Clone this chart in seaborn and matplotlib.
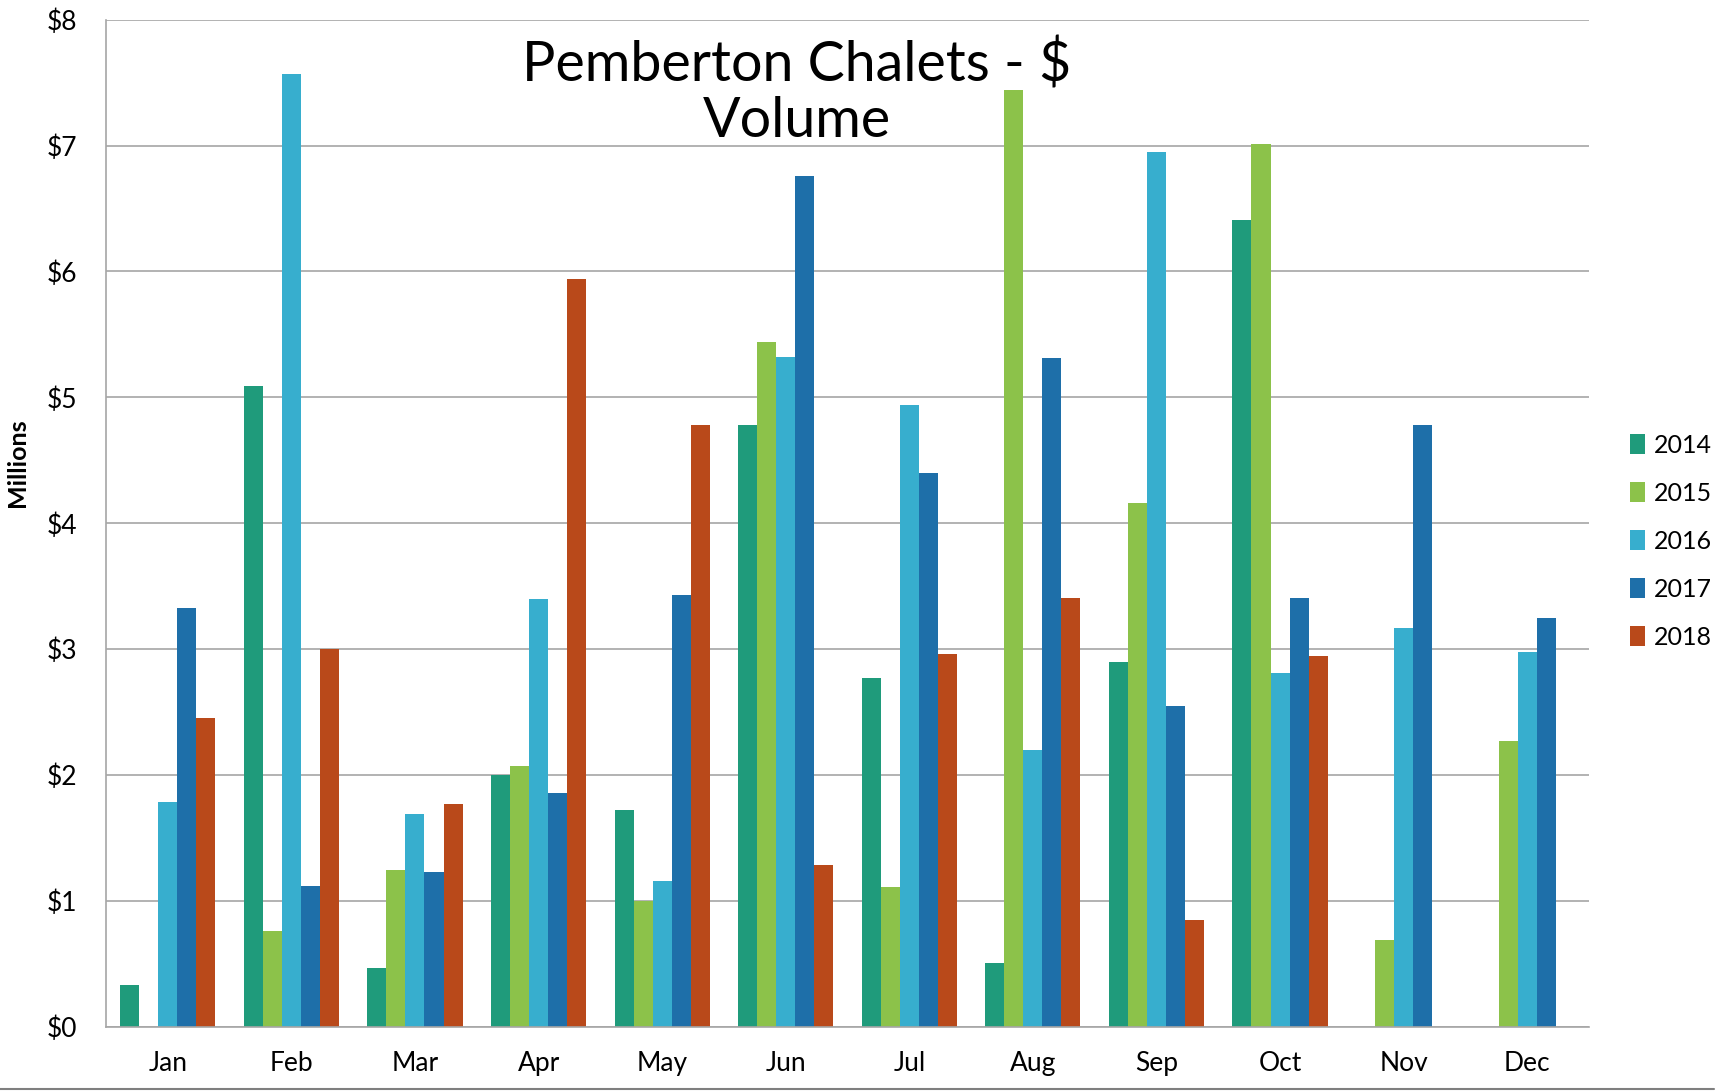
import numpy as np
import pandas as pd
import matplotlib
matplotlib.use("Agg")
import matplotlib.pyplot as plt
from matplotlib.lines import Line2D
from matplotlib.patches import Patch
import seaborn as sns

months = ["Jan", "Feb", "Mar", "Apr", "May", "Jun", "Jul", "Aug", "Sep", "Oct", "Nov", "Dec"]
years = ["2014", "2015", "2016", "2017", "2018"]

# $ volume in millions, NaN = no sales
vol_2014 = [0.33, 5.09, 0.47, 2.00, 1.72, 4.78, 2.77, 0.51, 2.90, 6.41, np.nan, np.nan]
vol_2015 = [np.nan, 0.76, 1.25, 2.07, 1.00, 5.44, 1.11, 7.44, 4.16, 7.01, 0.69, 2.27]
vol_2016 = [1.79, 7.57, 1.69, 3.40, 1.16, 5.32, 4.94, 2.20, 6.95, 2.81, 3.17, 2.98]
vol_2017 = [3.33, 1.12, 1.23, 1.86, 3.43, 6.76, 4.40, 5.31, 2.55, 3.41, 4.78, 3.25]
vol_2018 = [2.45, 3.00, 1.77, 5.94, 4.78, 1.29, 2.96, 3.41, 0.85, 2.95, np.nan, np.nan]

colors = ["#1F9B7B", "#8CC24A", "#37AECE", "#1E6FA9", "#B9491A"]

df = pd.DataFrame({
    "month": months * 5,
    "year": np.repeat(years, 12),
    "value": vol_2014 + vol_2015 + vol_2016 + vol_2017 + vol_2018,
})

sns.set_theme(style="white")
plt.rcParams["font.family"] = ["Lato", "DejaVu Sans"]
plt.rcParams["text.color"] = "black"
plt.rcParams["axes.labelcolor"] = "black"

fig = plt.figure(figsize=(17.21, 10.91), dpi=100)
ax = fig.add_axes([0.0616, 0.0587, 0.8617, 0.9233])

sns.barplot(data=df, x="month", y="value", hue="year", order=months, hue_order=years,
            palette=colors, width=0.77, gap=0, linewidth=0, saturation=1,
            errorbar=None, legend=False, ax=ax)

ax.set_ylim(0, 8)
ax.set_xlim(-0.5, 11.5)
ax.set_yticks(range(0, 9))
ax.set_yticklabels([f"${i}" for i in range(0, 9)], fontsize=19)
ax.yaxis.grid(True, color="#A6A6A6", linewidth=1.2)
ax.set_axisbelow(True)

# month labels centered, tick marks on category boundaries
ax.set_xticks(np.arange(-0.5, 12, 1))
ax.set_xticklabels([""] * 13)
ax.set_xticks(range(12), minor=True)
ax.set_xticklabels(months, minor=True, fontsize=19)
ax.tick_params(axis="x", which="major", length=9, width=1.2, color="#A6A6A6", direction="out")
ax.tick_params(axis="x", which="minor", length=0, pad=17, labelcolor="black")
ax.tick_params(axis="y", length=9, width=1.2, color="#A6A6A6", direction="out", pad=12,
               labelcolor="black")

for side in ["top", "right"]:
    ax.spines[side].set_visible(False)
for side in ["left", "bottom"]:
    ax.spines[side].set_color("#A6A6A6")
    ax.spines[side].set_linewidth(1.2)

ax.set_xlabel("")
ax.set_ylabel("Millions", fontsize=18, fontweight="bold")
ax.yaxis.set_label_coords(-0.052, 0.56)

fig.text(0.463, 0.915, "Pemberton Chalets - $\nVolume", ha="center", va="center",
         fontsize=40, linespacing=1.12)

handles = [Patch(facecolor=c, edgecolor="none") for c in colors]
fig.legend(handles, years, loc="center left", bbox_to_anchor=(0.934, 0.504),
           frameon=False, fontsize=18, handlelength=0.6, handleheight=0.85,
           handletextpad=0.35, labelspacing=1.0)

# bottom edge of chart frame
fig.add_artist(Line2D([0, 0.996], [0.0015, 0.0015], transform=fig.transFigure,
                      color="#7F7F7F", linewidth=1.5))

fig.savefig("out.png", dpi=100)
